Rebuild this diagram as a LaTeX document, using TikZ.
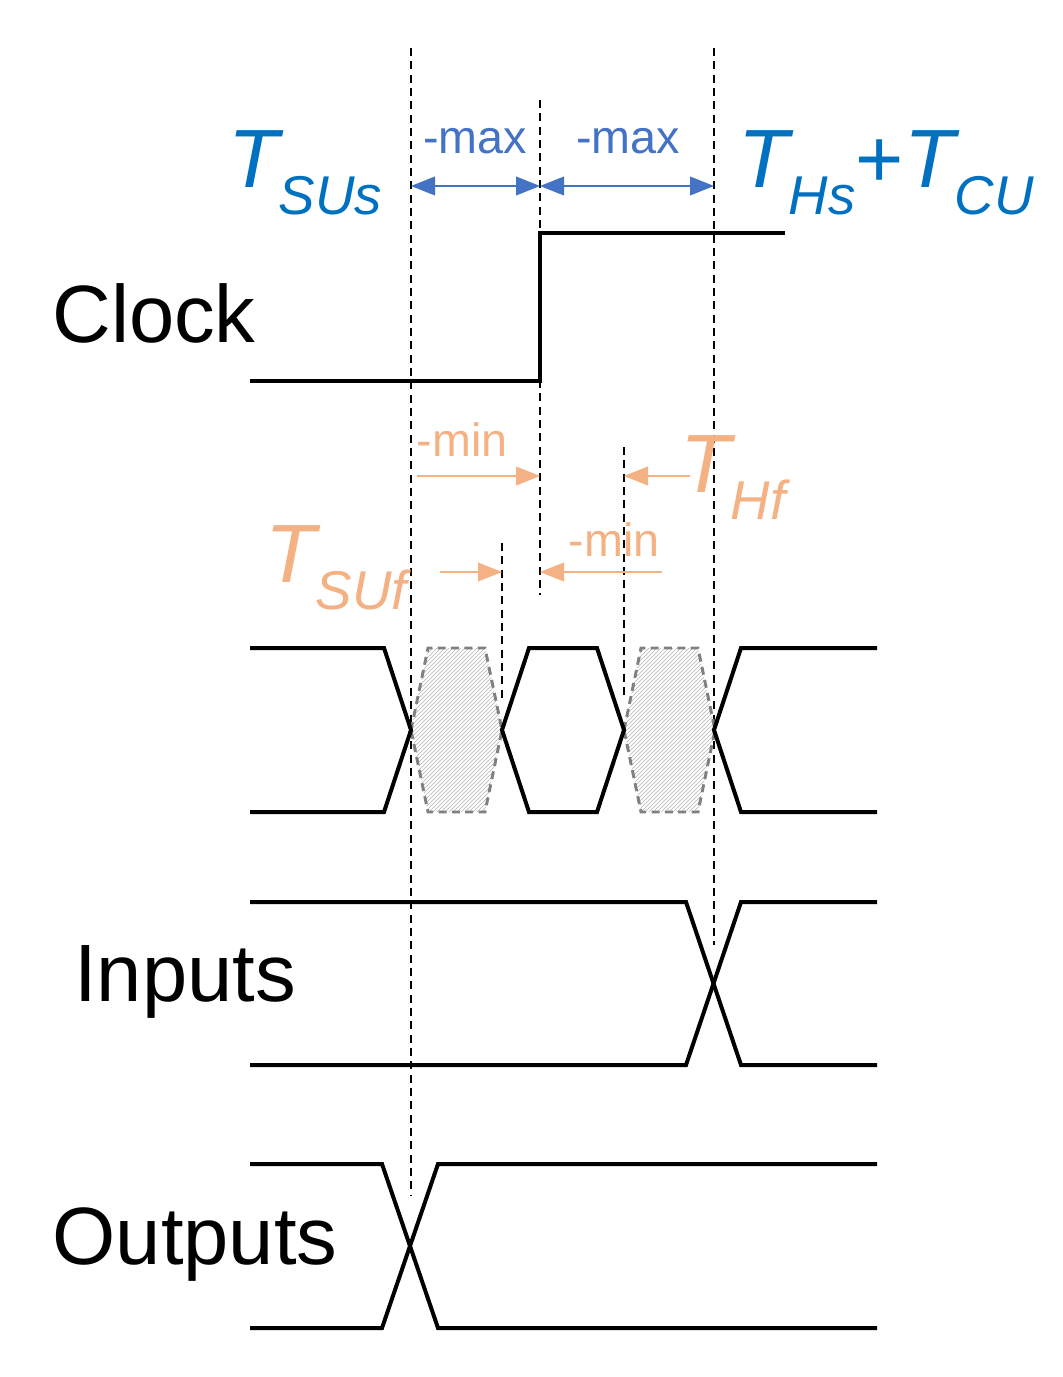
\documentclass[tikz,border=0pt]{standalone}
\usepackage{fontspec}
\setmainfont{Liberation Sans}
\usetikzlibrary{arrows.meta,patterns}
\definecolor{tblue}{HTML}{0070C0}
\definecolor{ablue}{HTML}{4472C4}
\definecolor{orng}{HTML}{F4B183}
\newcommand{\tsym}[2]{\fontsize{62}{62}\selectfont\itshape T\raisebox{-0.33em}{\fontsize{41}{41}\selectfont #1}#2}
\begin{document}
\begin{tikzpicture}[x=0.75pt,y=-0.75pt,
  sig/.style={line width=3pt,line join=miter},
  guide/.style={line width=1.6pt,dash pattern=on 6pt off 4pt},
  barr/.style={ablue,line width=1.2pt,{Triangle[length=18pt,width=14pt]}-{Triangle[length=18pt,width=14pt]}},
  oarr/.style={orng,line width=1.2pt,-{Triangle[length=18pt,width=14pt]}},
  lbl/.style={font=\fontsize{61}{61}\selectfont},
  small/.style={font=\fontsize{35}{35}\selectfont}]
\useasboundingbox (0,0) rectangle (1063,1377);
% guides
\draw[guide] (411,48) -- (411,1195);
\draw[guide] (540,100) -- (540,595);
\draw[guide] (714,48) -- (714,945);
\draw[guide] (502,543) -- (502,700);
\draw[guide] (624,447) -- (624,700);
\coordinate (a1) at (411,186); \coordinate (a2) at (540,186); \coordinate (a3) at (714,186);
\draw[barr] (a1) -- (a2);
\draw[barr] (a2) -- (a3);
\node[small,text=ablue] (m1) at (475,141) {-max};
\node[small,text=ablue] (m2) at (628,141) {-max};
\node[text=tblue,anchor=base] (tsus) at (305,187) {\tsym{SUs}{}};
\node[text=tblue,anchor=base] (ths) at (886,187) {\tsym{Hs}{\fontsize{62}{62}\selectfont\upshape +}\tsym{CU}{}};
% clock
\draw[sig] (250,381) -- (540,381) -- (540,233) -- (785,233);
\node[lbl] (clk) at (154,313) {Clock};
% orange
\node[small,text=orng] (n1) at (462,440) {-min};
\coordinate (o1) at (417,476); \coordinate (o2) at (540,476);
\draw[oarr] (o1) -- (o2);
\coordinate (o3) at (690,476); \coordinate (o4) at (624,476);
\draw[oarr] (o3) -- (o4);
\node[text=orng,anchor=base] (thf) at (733,492) {\tsym{Hf}{}};
\node[text=orng,anchor=base] (tsuf) at (336,582) {\tsym{SUf}{}};
\coordinate (o5) at (440,572); \coordinate (o6) at (502,572);
\draw[oarr] (o5) -- (o6);
\node[small,text=orng] (n2) at (614,540) {-min};
\coordinate (o7) at (662,572); \coordinate (o8) at (540,572);
\draw[oarr] (o7) -- (o8);
% hatched regions
\foreach \x in {411,624}{
  \draw[gray,line width=2.2pt,dash pattern=on 6pt off 4pt,pattern=north east lines,pattern color=gray!60]
   (\x,730) -- (\x+17,648) -- (\x+74,648) -- (\x+91,730) -- (\x+74,812) -- (\x+17,812) -- cycle;}
% data
\draw[sig] (250,648) -- (384,648) -- (411,730) -- (384,812) -- (250,812);
\draw[sig] (529,648) -- (502,730) -- (529,812) -- (597,812) -- (624,730) -- (597,648) -- cycle;
\draw[sig] (877,648) -- (741,648) -- (714,730) -- (741,812) -- (877,812);
% inputs
\draw[sig] (250,902) -- (686,902) -- (741,1065) -- (877,1065);
\draw[sig] (250,1065) -- (686,1065) -- (741,902) -- (877,902);
\node[lbl] (inp) at (185,982) {Inputs};
% outputs
\draw[sig] (250,1164) -- (382,1164) -- (438,1328) -- (877,1328);
\draw[sig] (250,1328) -- (382,1328) -- (438,1164) -- (877,1164);
\node[lbl] (outp) at (195,1245) {Outputs};
\end{tikzpicture}
\end{document}
